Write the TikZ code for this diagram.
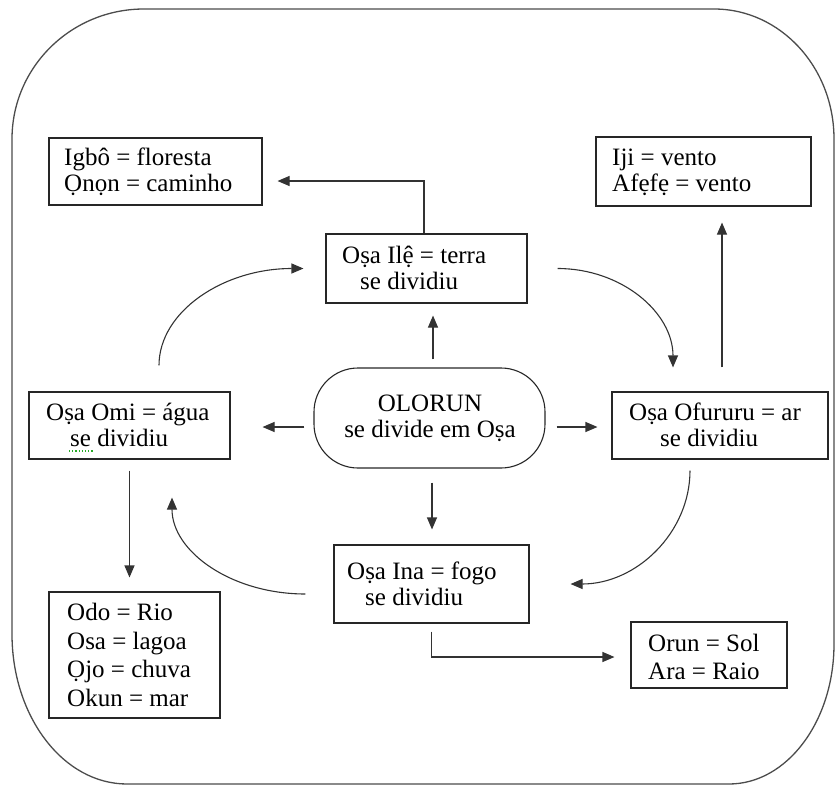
\documentclass[tikz,border=0pt]{standalone}
\usepackage{fontspec}
\setmainfont{Liberation Serif}
\usetikzlibrary{arrows.meta,calc}
\definecolor{spellgreen}{RGB}{40,170,40}
\begin{document}
\begin{tikzpicture}[x=1pt,y=1pt,
  box/.style={draw=black!85, line width=1.1pt, inner sep=0pt},
  txt/.style={align=left, anchor=west, inner sep=0pt, font=\fontsize{25}{26}\selectfont},
  arr/.style={line width=1.1pt, draw=black!80, -{Triangle[length=12pt,width=10pt]}},
  frame/.style={draw=black!70, line width=1.3pt}]
\useasboundingbox (0,0) rectangle (836,-787);

% outer frame
\draw[frame] (144,-9) -- (714,-9)
  arc[start angle=90, end angle=0, x radius=120pt, y radius=130pt]
  -- (834,-644)
  arc[start angle=0, end angle=-90, x radius=105pt, y radius=140pt]
  -- (127,-784)
  arc[start angle=270, end angle=180, x radius=115pt, y radius=150pt]
  -- (12,-139)
  arc[start angle=180, end angle=90, x radius=132pt, y radius=130pt]
  -- cycle;

% boxes
\node[box, minimum width=213pt, minimum height=67pt] (igbo) at (155.5,-171.5) {};
\node[box, minimum width=215pt, minimum height=69pt] (iji) at (703.5,-171.5) {};
\node[box, minimum width=201pt, minimum height=69pt] (ile) at (426.5,-268.5) {};
\node[box, minimum width=231pt, minimum height=100pt, rounded corners=44pt] (olorun) at (429.5,-418) {};
\node[box, minimum width=201pt, minimum height=67pt] (omi) at (129.5,-425.5) {};
\node[box, minimum width=216pt, minimum height=67pt] (ofu) at (720,-425.5) {};
\node[box, minimum width=195pt, minimum height=78pt] (ina) at (431.5,-584) {};
\node[box, minimum width=171pt, minimum height=126pt] (odo) at (134.5,-655) {};
\node[box, minimum width=156pt, minimum height=66pt] (sol) at (709,-655) {};

% texts
\node[txt] (tigbo) at (64,-172) {Igbô = floresta\\Ọnọn = caminho};
\node[txt] (tiji) at (612,-172) {Iji = vento\\Afẹfẹ = vento};
\node[txt] (tile) at (342,-268) {Oṣa Ilệ = terra\\\hspace*{18pt}se dividiu};
\node[txt, align=center, anchor=center] (tolorun) at (430,-418) {OLORUN\\se divide em Oṣa};
\node[txt] (tomi) at (46,-425) {Oṣa Omi = água\\\hspace*{24pt}se dividiu};
\node[txt] (tofu) at (629,-425) {Oṣa Ofururu = ar\\\hspace*{31pt}se dividiu};
\node[txt] (tina) at (347,-584) {Oṣa Ina = fogo\\\hspace*{18pt}se dividiu};
\node[txt, font=\fontsize{25}{28.5}\selectfont] (todo) at (67,-655) {Odo = Rio\\Osa = lagoa\\Ọjo = chuva\\Okun = mar};
\node[txt, font=\fontsize{25}{28}\selectfont] (tsol) at (648,-657) {Orun = Sol\\Ara = Raio};

% spell-check underline
\draw[spellgreen, dotted, line width=1.2pt] (69,-451) -- (93,-451);

% straight connectors
\draw[arr, shorten >=15pt] ([xshift=-2.5pt]ile.north) |- ([yshift=-9.5pt]igbo.east);
\draw[arr, shorten <=24pt, shorten >=16pt] ([xshift=2pt]ofu.north) -- ([xshift=2pt]ofu.north |- iji.south);
\draw[arr, shorten <=8pt, shorten >=12pt] ([xshift=3.5pt]olorun.north) -- ([xshift=3.5pt]olorun.north |- ile.south);
\draw[arr, shorten <=9pt, shorten >=32pt] ([yshift=-9pt]olorun.west) -- ([yshift=-9pt]olorun.west -| omi.east);
\draw[arr, shorten <=11pt, shorten >=14pt] ([yshift=-9pt]olorun.east) -- ([yshift=-9pt]olorun.east -| ofu.west);
\draw[arr, shorten <=14pt, shorten >=15pt] ([xshift=2.5pt]olorun.south) -- ([xshift=2.5pt]olorun.south |- ina.north);
\draw[arr, shorten <=11pt, shorten >=14pt] (omi.south) -- (omi.south |- odo.north);
\draw[arr, shorten <=8pt, shorten >=16pt] (ina.south) |- ([yshift=-2pt]sol.west);

% curved connectors
\draw[arr] ([xshift=29.5pt,yshift=26pt]omi.north) .. controls +(0,54pt) and +(-80pt,0) .. ([xshift=-22pt]ile.west);
\draw[arr] ([xshift=30pt]ile.east) .. controls +(64pt,0) and +(0,55pt) .. ([xshift=-47pt,yshift=24pt]ofu.north);
\draw[arr] ([xshift=-30pt,yshift=-11pt]ofu.south) .. controls +(0,-62pt) and +(66pt,0) .. ([xshift=41pt]ina.east);
\draw[arr] ([xshift=-28pt,yshift=-10pt]ina.west) .. controls +(-74pt,0) and +(0,-54pt) .. ([xshift=42.5pt,yshift=-38pt]omi.south);
\end{tikzpicture}
\end{document}
